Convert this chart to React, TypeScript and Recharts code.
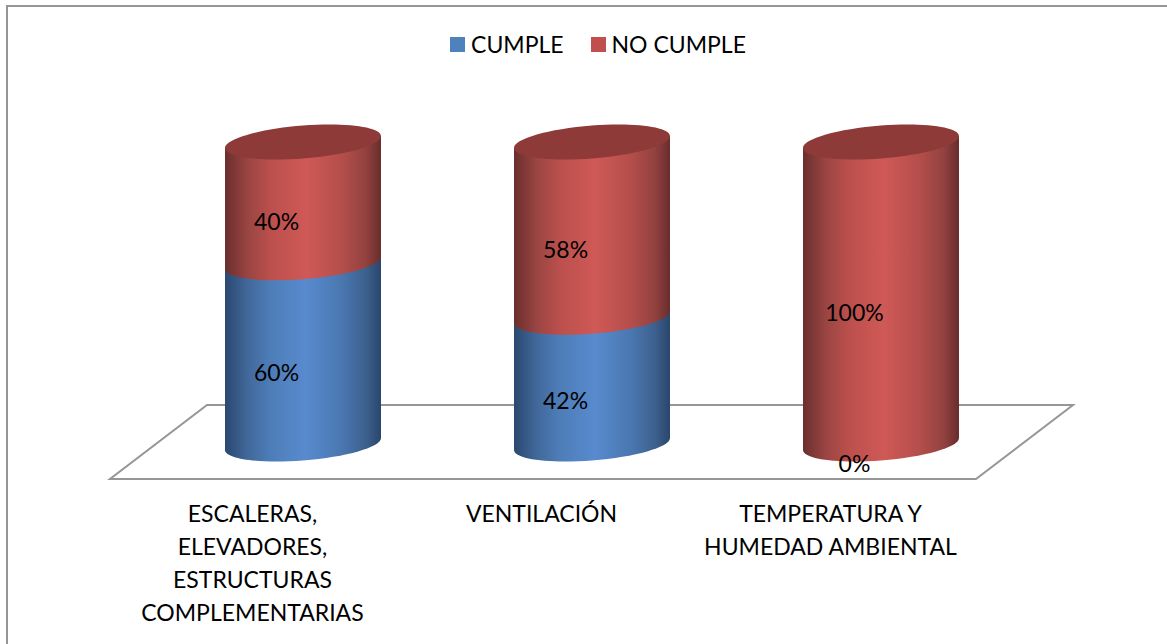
import React from "react";
import {
    ComposedChart,
    Bar,
    Line,
    XAxis,
    YAxis,
    Legend,
    LabelList,
    Customized,
    usePlotArea,
} from "recharts";

const categories = [
    "ESCALERAS,\nELEVADORES,\nESTRUCTURAS\nCOMPLEMENTARIAS",
    "VENTILACIÓN",
    "TEMPERATURA Y\nHUMEDAD AMBIENTAL",
];
const cumple = [60, 42, 0];
const noCumple = [40, 58, 100];

const rows = categories.map((name, i) => ({
    name,
    cumple: cumple[i],
    noCumple: noCumple[i],
    // label anchors, halfway up each stacked segment
    cumpleMid: cumple[i] / 2,
    noCumpleMid: cumple[i] + noCumple[i] / 2,
}));

const FONT = "Lato, sans-serif";
const FONT_SIZE = 23;
const GREY = "#969696";
const KAPPA = 0.5523;
const TILT = 0.077; // the ellipses lean up to the right
const MINOR = 16.5;

function lowerArc(cx: number, cy: number, a: number) {
    const ux = a;
    const uy = -a * TILT;
    const lx = cx - ux;
    const ly = cy - uy;
    const bx = cx;
    const by = cy + MINOR;
    const rx = cx + ux;
    const ry = cy + uy;
    return (
        `C ${lx} ${ly + KAPPA * MINOR} ${bx - KAPPA * ux} ${by - KAPPA * uy} ${bx} ${by} ` +
        `C ${bx + KAPPA * ux} ${by + KAPPA * uy} ${rx} ${ry + KAPPA * MINOR} ${rx} ${ry}`
    );
}

function upperArc(cx: number, cy: number, a: number) {
    const ux = a;
    const uy = -a * TILT;
    const rx = cx + ux;
    const ry = cy + uy;
    const tx = cx;
    const ty = cy - MINOR;
    const lx = cx - ux;
    const ly = cy - uy;
    return (
        `C ${rx} ${ry - KAPPA * MINOR} ${tx + KAPPA * ux} ${ty + KAPPA * uy} ${tx} ${ty} ` +
        `C ${tx - KAPPA * ux} ${ty - KAPPA * uy} ${lx} ${ly - KAPPA * MINOR} ${lx} ${ly}`
    );
}

function Cylinder({ x, y, width, height, gradient, cap }: any) {
    if (!height) return null;
    const a = width / 2;
    const cx = x + a;
    const bottom = y + height;
    const lean = a * TILT;
    const body =
        `M ${cx - a} ${y + lean} L ${cx - a} ${bottom + lean} ` +
        lowerArc(cx, bottom, a) +
        ` L ${cx + a} ${y - lean} Z`;
    const top = `M ${cx - a} ${y + lean} ` + lowerArc(cx, y, a) + " " + upperArc(cx, y, a) + " Z";
    return (
        <g>
            <path d={body} fill={`url(#${gradient})`} />
            {cap && <path d={top} fill="#8d3a38" />}
        </g>
    );
}

function Floor() {
    const plot = usePlotArea();
    if (!plot) return null;
    const left = plot.x;
    const right = plot.x + plot.width;
    const base = plot.y + plot.height;
    const points = [
        [left + 49, base - 39],
        [right + 48, base - 39],
        [right - 49, base + 35],
        [left - 48, base + 35],
    ];
    return <polygon points={points.map((p) => p.join(",")).join(" ")} fill="#fff" stroke={GREY} strokeWidth={2} />;
}

function CategoryTick({ x, y, payload }: any) {
    const lines = String(payload.value).split("\n");
    return (
        <text x={x - 50} y={y} textAnchor="middle" fontFamily={FONT} fontSize={FONT_SIZE} fill="#000">
            {lines.map((line, i) => (
                <tspan key={line} x={x - 50} y={y + 69.5 + i * 33.3}>
                    {line}
                </tspan>
            ))}
        </text>
    );
}

function PercentLabel({ x, y, value }: any) {
    return (
        <text x={x - 26} y={y + 19} textAnchor="middle" dominantBaseline="central" fontFamily={FONT} fontSize={FONT_SIZE} fill="#000">
            {value}%
        </text>
    );
}

function LegendRow({ payload }: any) {
    const entries = (payload || []).filter((entry: any) => entry.type !== "none");
    return (
        <div style={{ display: "flex", justifyContent: "center", fontFamily: FONT, fontSize: FONT_SIZE, color: "#000" }}>
            {entries.map((entry: any, i: number) => (
                <div key={entry.value} style={{ display: "flex", alignItems: "center", marginLeft: i ? 27 : 0 }}>
                    <span style={{ width: 15, height: 15, background: entry.color, marginRight: 6 }} />
                    {entry.value}
                </div>
            ))}
        </div>
    );
}

export default function App() {
    return (
        <div style={{ position: "fixed", left: 0, top: 0, width: 1167, height: 644, overflow: "hidden", background: "#fff" }}>
            <div
                style={{
                    position: "absolute",
                    left: 6,
                    top: 5,
                    width: 1200,
                    height: 700,
                    borderLeft: `2px solid ${GREY}`,
                    borderTop: `2px solid ${GREY}`,
                }}
            />
            <div style={{ position: "absolute", left: 0, top: 0 }}>
                <ComposedChart
                    width={1167}
                    height={644}
                    data={rows}
                    margin={{ top: 142, right: 142, bottom: 0, left: 158 }}
                >
                    <defs>
                        <linearGradient id="blueSide" x1="0" y1="0" x2="1" y2="0">
                            <stop offset="0" stopColor="#2b486f" />
                            <stop offset="0.15" stopColor="#42699c" />
                            <stop offset="0.3" stopColor="#4e7eb9" />
                            <stop offset="0.52" stopColor="#588ace" />
                            <stop offset="0.75" stopColor="#4a77b0" />
                            <stop offset="0.9" stopColor="#3d618f" />
                            <stop offset="1" stopColor="#2a466c" />
                        </linearGradient>
                        <linearGradient id="redSide" x1="0" y1="0" x2="1" y2="0">
                            <stop offset="0" stopColor="#6a2f2d" />
                            <stop offset="0.15" stopColor="#9b4543" />
                            <stop offset="0.3" stopColor="#bc504d" />
                            <stop offset="0.52" stopColor="#cf5956" />
                            <stop offset="0.75" stopColor="#b44e4b" />
                            <stop offset="0.9" stopColor="#934240" />
                            <stop offset="1" stopColor="#682d2b" />
                        </linearGradient>
                    </defs>
                    <Customized component={Floor} />
                    <XAxis
                        dataKey="name"
                        height={200}
                        interval={0}
                        axisLine={false}
                        tickLine={false}
                        tick={<CategoryTick />}
                    />
                    <YAxis hide domain={[0, 100]} />
                    <Legend
                        verticalAlign="middle"
                        content={<LegendRow />}
                        wrapperStyle={{ top: 30, left: 0, width: 1196 }}
                    />
                    <Bar
                        dataKey="cumple"
                        name="CUMPLE"
                        stackId="total"
                        barSize={156}
                        fill="#4f81bd"
                        isAnimationActive={false}
                        shape={(props: any) => <Cylinder {...props} gradient="blueSide" />}
                    />
                    <Bar
                        dataKey="noCumple"
                        name="NO CUMPLE"
                        stackId="total"
                        barSize={156}
                        fill="#c0504d"
                        isAnimationActive={false}
                        shape={(props: any) => <Cylinder {...props} gradient="redSide" cap />}
                    />
                    <Line
                        dataKey="cumpleMid"
                        stroke="none"
                        dot={false}
                        activeDot={false}
                        legendType="none"
                        isAnimationActive={false}
                    >
                        <LabelList dataKey="cumple" content={<PercentLabel />} />
                    </Line>
                    <Line
                        dataKey="noCumpleMid"
                        stroke="none"
                        dot={false}
                        activeDot={false}
                        legendType="none"
                        isAnimationActive={false}
                    >
                        <LabelList dataKey="noCumple" content={<PercentLabel />} />
                    </Line>
                </ComposedChart>
            </div>
        </div>
    );
}
